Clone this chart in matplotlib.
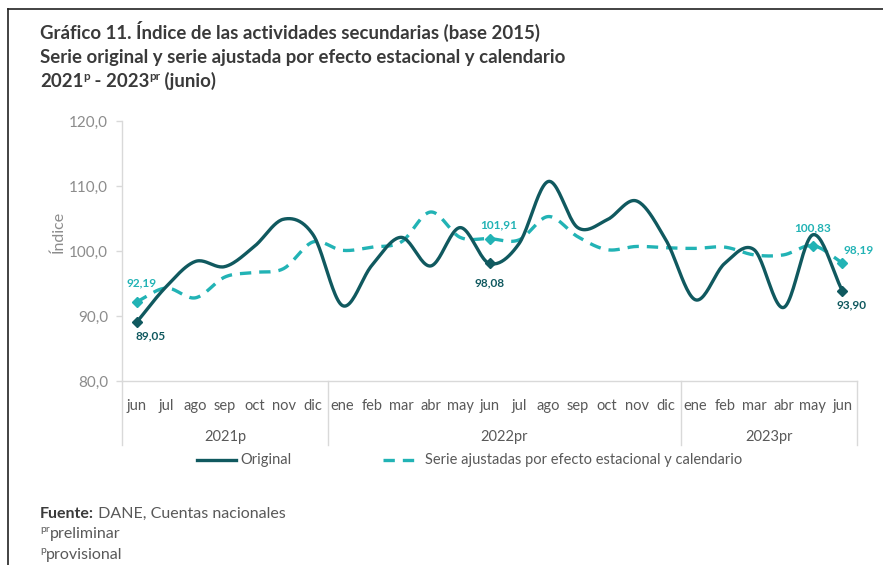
import numpy as np
import matplotlib
matplotlib.use("Agg")
import matplotlib.pyplot as plt
from matplotlib.lines import Line2D
import matplotlib.transforms as mtransforms

plt.rcParams['font.family'] = ['Lato', 'DejaVu Sans']

months = ["jun", "jul", "ago", "sep", "oct", "nov", "dic",
          "ene", "feb", "mar", "abr", "may", "jun", "jul", "ago", "sep", "oct", "nov", "dic",
          "ene", "feb", "mar", "abr", "may", "jun"]
years = ["2021p", "2022pr", "2023pr"]
year_counts = [7, 12, 6]

original = [89.05, 94.5, 98.4, 97.6, 100.7, 104.9, 102.5,
            91.6, 97.8, 102.1, 97.7, 103.6, 98.08, 101.1, 110.7, 103.6, 104.8, 107.7, 101.7,
            92.5, 98.1, 100.2, 91.3, 102.5, 93.90]
ajustada = [92.19, 94.3, 92.8, 96.0, 96.7, 97.3, 101.4,
            100.1, 100.6, 101.4, 106.0, 102.1, 101.91, 101.7, 105.3, 102.2, 100.2, 100.7, 100.5,
            100.4, 100.6, 99.4, 99.4, 100.83, 98.19]

orig_marked = [0, 12, 24]
adj_marked = [0, 12, 23, 24]

C_ORIG = "#10595f"
C_ADJ = "#22b3b5"
C_TEXT = "#595959"
C_TICK = "#8c8c8c"
C_AXIS = "#d9d9d9"
DASH = (3.4, 2.4)

W, H = 883, 565
fig = plt.figure(figsize=(W / 100, H / 100), dpi=100)


def fx(px):
    return px / W


def fy(py):
    return 1 - py / H


def smooth(xs, ys, n=24):
    xs = np.asarray(xs, float)
    ys = np.asarray(ys, float)
    px = np.concatenate([[2 * xs[0] - xs[1]], xs, [2 * xs[-1] - xs[-2]]])
    py = np.concatenate([[2 * ys[0] - ys[1]], ys, [2 * ys[-1] - ys[-2]]])
    outx, outy = [], []
    t = np.linspace(0, 1, n, endpoint=False)
    for i in range(1, len(px) - 2):
        def cr(a0, a1, a2, a3):
            return 0.5 * ((2 * a1) + (-a0 + a2) * t + (2 * a0 - 5 * a1 + 4 * a2 - a3) * t ** 2
                          + (-a0 + 3 * a1 - 3 * a2 + a3) * t ** 3)
        outx.append(cr(px[i - 1], px[i], px[i + 1], px[i + 2]))
        outy.append(cr(py[i - 1], py[i], py[i + 1], py[i + 2]))
    outx.append([xs[-1]])
    outy.append([ys[-1]])
    return np.concatenate(outx), np.concatenate(outy)


AX_L, AX_R, AX_T, AX_B = 122, 857, 121, 381
ax = fig.add_axes([fx(AX_L), fy(AX_B), fx(AX_R) - fx(AX_L), fy(AX_T) - fy(AX_B)])
x = np.arange(len(months))

sx, sy = smooth(x, ajustada)
ax.plot(sx, sy, color=C_ADJ, lw=2.4, dashes=DASH, solid_capstyle='butt', zorder=3)
ax.plot([x[i] for i in adj_marked], [ajustada[i] for i in adj_marked], ls='none',
        marker='D', ms=5, color=C_ADJ, zorder=4)
sx, sy = smooth(x, original)
ax.plot(sx, sy, color=C_ORIG, lw=2.4, zorder=5)
ax.plot([x[i] for i in orig_marked], [original[i] for i in orig_marked], ls='none',
        marker='D', ms=5, color=C_ORIG, zorder=6)

ax.set_xlim(-0.5, len(months) - 0.5)
ax.set_ylim(80, 120)
yt = [80, 90, 100, 110, 120]
ax.set_yticks(yt)
ax.set_yticklabels([f"{v:.1f}".replace(".", ",") for v in yt])
ax.tick_params(axis='y', colors=C_AXIS, labelcolor=C_TICK, labelsize=11, length=4.5, pad=5.5, width=1)
ax.set_xticks(x)
ax.set_xticklabels(months)
ax.tick_params(axis='x', length=0, pad=13, labelcolor=C_TEXT, labelsize=10.5)
for s in ['top', 'right']:
    ax.spines[s].set_visible(False)
for s in ['left', 'bottom']:
    ax.spines[s].set_color(C_AXIS)
    ax.spines[s].set_linewidth(1)
ax.set_ylabel("Índice", color=C_TICK, fontsize=11.5)
ax.yaxis.set_label_coords(-(AX_L - 66) / (AX_R - AX_L), (AX_B - 232) / (AX_B - AX_T))

# category groups
trans = mtransforms.blended_transform_factory(ax.transData, ax.transAxes)
ybot = -(445 - AX_B) / (AX_B - AX_T)
bounds = np.concatenate([[0], np.cumsum(year_counts)]) - 0.5
for b in bounds:
    ax.add_line(Line2D([b, b], [0, ybot], transform=trans, color=C_AXIS, lw=1, clip_on=False))
for i, yl in enumerate(years):
    cx = (bounds[i] + bounds[i + 1]) / 2
    ax.text(cx, -(437 - AX_B) / (AX_B - AX_T), yl, transform=trans, ha='center', va='center',
            color=C_TEXT, fontsize=10.5)

# data labels
lab_kw = dict(fontsize=8.5, fontweight='bold', ha='center', va='center')


def lab(xv, yv, dxp, dyp, txt, col):
    ax.annotate(txt, (xv, yv), xytext=(dxp * 0.72, -dyp * 0.72), textcoords='offset points',
                color=col, **lab_kw)


def fmt(v):
    return f"{v:.2f}".replace(".", ",")


lab(0, original[0], 14, 14, fmt(original[0]), C_ORIG)
lab(0, ajustada[0], 5, -19, fmt(ajustada[0]), C_ADJ)
lab(12, original[12], 0, 19, fmt(original[12]), C_ORIG)
lab(12, ajustada[12], 9, -14, fmt(ajustada[12]), C_ADJ)
lab(23, ajustada[23], 0, -18, fmt(ajustada[23]), C_ADJ)
lab(24, ajustada[24], 16, -13, fmt(ajustada[24]), C_ADJ)
lab(24, original[24], 9, 14, fmt(original[24]), C_ORIG)

# legend
fig.add_artist(Line2D([fx(197), fx(236)], [fy(460), fy(460)], color=C_ORIG, lw=2.4))
fig.text(fx(240), fy(460), "Original", color=C_TEXT, fontsize=10.5, va='center')
fig.add_artist(Line2D([fx(383), fx(421)], [fy(460), fy(460)], color=C_ADJ, lw=2.4,
                      dashes=DASH))
fig.text(fx(425), fy(460), "Serie ajustadas por efecto estacional y calendario", color=C_TEXT,
         fontsize=10.5, va='center')

# frame
fig.add_artist(Line2D([fx(8), fx(8)], [fy(9), 0], color="#222222", lw=1.2))
fig.add_artist(Line2D([fx(8), 1], [fy(9), fy(9)], color="#222222", lw=1.2))

renderer = fig.canvas.get_renderer()


def runs(xp, yp, parts):
    cur = xp
    for txt, size, weight, dy in parts:
        t = fig.text(fx(cur), fy(yp + dy), txt, fontsize=size, fontweight=weight,
                     color="#3a3a3a" if weight == 'bold' else C_TEXT, va='baseline')
        bb = t.get_window_extent(renderer)
        cur += bb.width


TS = 13.4
runs(40, 39, [("Gráfico 11. Índice de las actividades secundarias (base 2015)", TS, 'bold', 0)])
runs(40, 63, [("Serie original y serie ajustada por efecto estacional y calendario", TS, 'bold', 0)])
runs(40, 87, [("2021", TS, 'bold', 0), ("p", 8.5, 'bold', -7), (" - 2023", TS, 'bold', 0),
              ("pr", 8.5, 'bold', -7), (" (junio)", TS, 'bold', 0)])

FS = 11.5
runs(40, 518, [("Fuente:", FS, 'bold', 0), (" DANE, Cuentas nacionales", FS, 'normal', 0)])
runs(40, 538, [("pr", 7.5, 'normal', -6), ("preliminar", FS, 'normal', 0)])
runs(40, 559, [("p", 7.5, 'normal', -6), ("provisional", FS, 'normal', 0)])

fig.savefig("out.png", dpi=100)
